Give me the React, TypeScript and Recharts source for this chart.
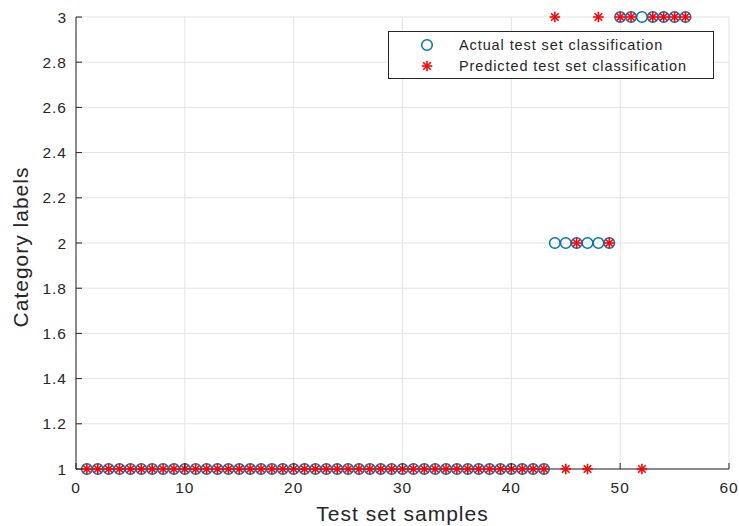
import React from 'react';
import { ScatterChart, Scatter, XAxis, YAxis, CartesianGrid, Legend } from 'recharts';

const sampleIndex = [
  1, 2, 3, 4, 5, 6, 7, 8, 9, 10, 11, 12, 13, 14, 15, 16, 17, 18, 19, 20,
  21, 22, 23, 24, 25, 26, 27, 28, 29, 30, 31, 32, 33, 34, 35, 36, 37, 38, 39, 40,
  41, 42, 43, 44, 45, 46, 47, 48, 49, 50, 51, 52, 53, 54, 55, 56,
];
const actualClass = [
  1, 1, 1, 1, 1, 1, 1, 1, 1, 1, 1, 1, 1, 1, 1, 1, 1, 1, 1, 1,
  1, 1, 1, 1, 1, 1, 1, 1, 1, 1, 1, 1, 1, 1, 1, 1, 1, 1, 1, 1,
  1, 1, 1, 2, 2, 2, 2, 2, 2, 3, 3, 3, 3, 3, 3, 3,
];
const predictedClass = [
  1, 1, 1, 1, 1, 1, 1, 1, 1, 1, 1, 1, 1, 1, 1, 1, 1, 1, 1, 1,
  1, 1, 1, 1, 1, 1, 1, 1, 1, 1, 1, 1, 1, 1, 1, 1, 1, 1, 1, 1,
  1, 1, 1, 3, 1, 2, 1, 3, 2, 3, 3, 1, 3, 3, 3, 3,
];
const xTicks = [0, 10, 20, 30, 40, 50, 60];
const yTicks = [1, 1.2, 1.4, 1.6, 1.8, 2, 2.2, 2.4, 2.6, 2.8, 3];
const seriesNames = ['Actual test set classification', 'Predicted test set classification'];
const axisTitles = { x: 'Test set samples', y: 'Category labels' };

const actualData = sampleIndex.map((s, i) => ({ x: s, y: actualClass[i] }));
const predictedData = sampleIndex.map((s, i) => ({ x: s, y: predictedClass[i] }));

const FONT = '"Liberation Sans", Arial, Helvetica, sans-serif';
const TEXT = '#262626';
const BLUE = '#0072BD';
const RED = '#FF0000';
const X_MARGIN = 13;
const Y_MARGIN = 9;

const circleMarker = (cx: number, cy: number, key?: any) => (
  <circle key={key} cx={cx} cy={cy} r={5.3} fill="none" stroke={BLUE} strokeWidth={1.5} />
);
const starMarker = (cx: number, cy: number, key?: any) => {
  const r = 5.3;
  const d = 3.8;
  return (
    <g key={key} stroke={RED} strokeWidth={1.6}>
      <line x1={cx - r} y1={cy} x2={cx + r} y2={cy} />
      <line x1={cx} y1={cy - r} x2={cx} y2={cy + r} />
      <line x1={cx - d} y1={cy - d} x2={cx + d} y2={cy + d} />
      <line x1={cx - d} y1={cy + d} x2={cx + d} y2={cy - d} />
    </g>
  );
};

const XTick = (props: any) => {
  const { x, y, payload } = props;
  const axisY = y - X_MARGIN;
  return (
    <g>
      <line x1={x} x2={x} y1={axisY} y2={axisY - 6} stroke={TEXT} strokeWidth={1} />
      <text x={x} y={y} dy="0.71em" textAnchor="middle" fill={TEXT} fontSize={15.5} letterSpacing={1} fontFamily={FONT}>
        {payload.value}
      </text>
    </g>
  );
};

const YTick = (props: any) => {
  const { x, y, payload } = props;
  const axisX = x + Y_MARGIN;
  return (
    <g>
      <line x1={axisX} x2={axisX + 6} y1={y} y2={y} stroke={TEXT} strokeWidth={1} />
      <text x={x} y={y} dy="0.355em" textAnchor="end" fill={TEXT} fontSize={15.5} letterSpacing={1} fontFamily={FONT}>
        {payload.value}
      </text>
    </g>
  );
};

const XLabel = (props: any) => {
  const vb = props.viewBox || {};
  const cx = vb.x + vb.width / 2;
  return (
    <text x={cx} y={vb.y + 52} textAnchor="middle" fill={TEXT} fontSize={21} letterSpacing={1} fontFamily={FONT}>
      {axisTitles.x}
    </text>
  );
};

const YLabel = (props: any) => {
  const vb = props.viewBox || {};
  const cy = vb.y + vb.height / 2 + 4;
  const x = 28;
  return (
    <text x={x} y={cy} transform={`rotate(-90 ${x} ${cy})`} textAnchor="middle" fill={TEXT} fontSize={21} letterSpacing={1} fontFamily={FONT}>
      {axisTitles.y}
    </text>
  );
};

const LegendBox = () => (
  <svg width={326} height={48} style={{ display: 'block' }}>
    <rect x={0.5} y={0.5} width={325} height={47} fill="#ffffff" stroke={TEXT} strokeWidth={1} />
    {circleMarker(39, 14)}
    <text x={71} y={14} dy="0.355em" fill={TEXT} fontSize={14.5} letterSpacing={0.9} fontFamily={FONT}>
      {seriesNames[0]}
    </text>
    {starMarker(39, 35)}
    <text x={71} y={35} dy="0.355em" fill={TEXT} fontSize={14.5} letterSpacing={0.9} fontFamily={FONT}>
      {seriesNames[1]}
    </text>
  </svg>
);

export default function App() {
  return (
    <div style={{ position: 'absolute', left: 0, top: 0, width: 739, height: 526, background: '#ffffff' }}>
      <ScatterChart width={739} height={526} margin={{ top: 17, right: 10, bottom: 0, left: 0 }}>
        <CartesianGrid stroke="#e3e3e3" strokeWidth={1} />
        <XAxis
          type="number"
          dataKey="x"
          domain={[0, 60]}
          ticks={xTicks}
          interval={0}
          allowDataOverflow
          height={57}
          tickSize={0}
          tickMargin={X_MARGIN}
          tickLine={false}
          axisLine={{ stroke: TEXT, strokeWidth: 1 }}
          tick={<XTick />}
          label={<XLabel />}
        />
        <YAxis
          type="number"
          dataKey="y"
          domain={[1, 3]}
          ticks={yTicks}
          interval={0}
          width={76}
          tickSize={0}
          tickMargin={Y_MARGIN}
          tickLine={false}
          axisLine={{ stroke: TEXT, strokeWidth: 1 }}
          tick={<YTick />}
          label={<YLabel />}
        />
        <Legend
          layout="vertical"
          align="center"
          verticalAlign="middle"
          wrapperStyle={{ left: 388, top: 31, width: 326, height: 48 }}
          content={() => <LegendBox />}
        />
        <Scatter
          name={seriesNames[0]}
          data={actualData}
          isAnimationActive={false}
          shape={(p: any) => circleMarker(p.cx, p.cy)}
        />
        <Scatter
          name={seriesNames[1]}
          data={predictedData}
          isAnimationActive={false}
          shape={(p: any) => starMarker(p.cx, p.cy)}
        />
      </ScatterChart>
    </div>
  );
}
